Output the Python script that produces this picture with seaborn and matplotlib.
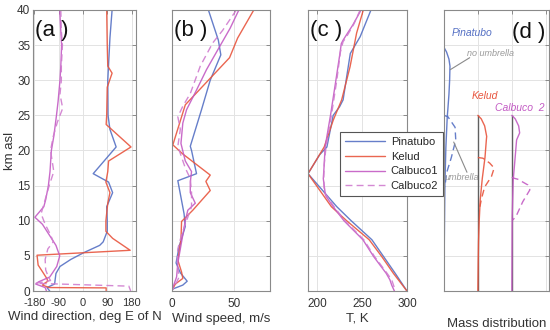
import matplotlib.pyplot as plt
import pandas as pd
import seaborn as sns

cases = ['Pinatubo', 'Kelud', 'Calbuco1', 'Calbuco2']
colors = ['#5570c4', '#e8553e', '#c35bc4', '#d07ccf']

# (a) wind direction, deg E of N
wd_km_pin = [40, 36, 30, 25, 23, 20.5, 16.7, 15.5, 14, 12, 10, 8.5, 7, 6.5, 5.5, 4.5, 3.5, 2.5, 1, 0.5, 0]
wd_pin = [108, 100, 92, 93, 100, 123, 38, 95, 110, 88, 90, 90, 75, 62, 5, -45, -85, -100, -105, -133, -123]
wd_km_kel = [40, 35, 32, 31, 29, 25, 23.7, 20.5, 18.5, 17, 15.5, 14, 12.5, 10, 8.5, 7.5, 5.8, 5.1, 3.7, 2.7, 1.8, 1.4, 1.1, 0.85, 0.5, 0.45, 0]
wd_kel = [88, 90, 92, 108, 90, 88, 86, 178, 95, 92, 85, 100, 92, 85, 85, 110, 175, -170, -166, -149, -134, -130, -142, -150, -125, 86, 86]
wd_km_c1 = [40, 37, 35, 32, 30, 27, 25, 22, 20, 17, 15, 13, 12, 10.5, 9.5, 8, 6.5, 5, 3.5, 2, 1.3, 1, 0.5, 0]
wd_c1 = [-86, -82, -79, -82, -85, -92, -98, -108, -117, -122, -128, -138, -145, -178, -150, -125, -100, -86, -97, -123, -165, -175, -140, -135]
wd_km_c2 = [40, 37, 35, 32, 30, 28, 26, 24, 22, 20, 17, 15, 13, 11, 9.5, 8, 7, 6, 4.5, 3, 2, 1.5, 1.1, 0.7, 0]
wd_c2 = [-82, -80, -76, -80, -80, -85, -75, -95, -110, -120, -108, -125, -140, -155, -140, -120, -110, -130, -140, -138, -128, -120, -175, 170, 177]

# (b) wind speed, m/s
ws_km_pin = [40, 35.7, 33.6, 30, 25.8, 20.6, 20, 16.7, 15.7, 11, 9.2, 6.3, 4, 2.6, 1.4, 0.85, 0.3, 0]
ws_pin = [29.5, 37.5, 39.5, 31, 24, 15, 16, 20, 5, 10, 11, 6, 3.6, 7, 12.5, 9, 1, 0]
ws_km_kel = [40, 36, 33.2, 26.5, 20.8, 19.5, 16.5, 15.6, 14.3, 11.5, 9.9, 7.3, 4.4, 2.7, 1.8, 1.0, 0]
ws_kel = [66, 53, 46.5, 11, 1, 9, 31, 27.5, 31, 17, 8, 7.5, 5, 8, 9, 3, 0]
ws_km_c1 = [40, 37.4, 34.3, 31.5, 28.6, 25.8, 23.9, 21, 18.5, 17, 15.5, 14, 12.5, 11.5, 10, 8, 6, 4, 2, 0.5, 0]
ws_c1 = [54, 47, 37, 28, 20, 12, 9, 7.5, 11, 16, 15, 15, 19, 13, 11, 9, 7, 5, 4, 1, 0]
ws_km_c2 = [40, 37.1, 35.3, 32, 28.1, 26.3, 24.8, 23, 20.6, 17.5, 16, 14, 12, 10, 8, 6, 4, 2, 0.5, 0]
ws_c2 = [52, 41, 33, 23, 15, 9, 5, 7, 5, 11, 15, 16, 16, 12, 8, 5, 4.5, 6, 2, 0]

# (c) temperature, K
t_km_pin = [40, 36.2, 33.8, 27.2, 26.2, 25, 20.5, 19.4, 16.7, 12, 10, 7.3, 4.9, 2.5, 0]
t_pin = [260, 248, 237, 229, 225, 218, 211, 203, 190, 222, 238, 261, 274, 287, 300]
t_km_kel = [40, 36.7, 31.9, 27.2, 24.3, 20.5, 16.7, 12, 10, 7.3, 4.9, 2.5, 0]
t_kel = [251.5, 244, 236.7, 227.4, 218, 208, 190, 216, 233, 258, 272, 285, 300]
t_km_c1 = [40, 37.9, 35.7, 35.2, 33.8, 30, 25, 20.5, 18, 16, 14, 13.5, 12, 10, 7.3, 4.9, 2.5, 1.6, 0.85, 0]
t_c1 = [249, 240, 229, 227, 225.5, 221, 215, 209, 208, 207, 209, 210, 218, 230, 251, 263, 277, 281, 283, 286]
t_km_c2 = [40, 38, 36, 35.5, 34, 30, 25, 20.5, 18, 16, 14, 13.5, 12, 10, 7.3, 4.9, 2.5, 1.6, 0.85, 0]
t_c2 = [248, 241, 232, 229, 226, 222, 216, 210, 208, 207.5, 208, 211, 219, 231, 252, 264, 278, 283, 285, 287]

# (d) mass distribution, no umbrella (solid) and umbrella (dashed)
md_base = [0, 1, 2]
md_km_pin = [34.7, 34, 33, 32, 30, 28, 26, 24.8, 20.5, 15, 10, 5, 0]
md_pin = [0, 0.08, 0.15, 0.18, 0.17, 0.15, 0.12, 0.1, 0.06, 0.03, 0.02, 0.01, 0]
md_km_pin_u = [25, 24.8, 23.3, 21.5, 19, 16.8, 14.8]
md_pin_u = [0, 0.12, 0.33, 0.35, 0.22, 0.08, 0.03]
md_km_kel = [25, 24.5, 23.5, 22, 21.5, 19, 16, 13, 10, 7, 4, 0]
md_kel = [0, 0.1, 0.2, 0.26, 0.25, 0.21, 0.13, 0.07, 0.04, 0.02, 0.01, 0]
md_km_kel_u = [19, 18.9, 18.2, 17.5, 16.3, 14.8, 13.2, 12]
md_kel_u = [0, 0.15, 0.35, 0.48, 0.4, 0.2, 0.11, 0.06]
md_km_cal = [25, 24.5, 23.5, 22.5, 21.5, 18.6, 15.8, 10.6, 0]
md_cal = [0, 0.1, 0.2, 0.23, 0.14, 0.09, 0.04, 0.01, 0]
md_km_cal_u = [16.2, 16.1, 15.9, 15.1, 14.4, 12.7, 10.8, 10.1]
md_cal_u = [0, 0.03, 0.18, 0.47, 0.53, 0.32, 0.14, 0.03]


def long_df(pairs, names):
    frames = []
    for name, (km, val) in zip(names, pairs):
        frames.append(pd.DataFrame({'km': km, 'val': val, 'case': name}))
    return pd.concat(frames, ignore_index=True)


df_wd = long_df([(wd_km_pin, wd_pin), (wd_km_kel, wd_kel), (wd_km_c1, wd_c1), (wd_km_c2, wd_c2)], cases)
df_ws = long_df([(ws_km_pin, ws_pin), (ws_km_kel, ws_kel), (ws_km_c1, ws_c1), (ws_km_c2, ws_c2)], cases)
df_t = long_df([(t_km_pin, t_pin), (t_km_kel, t_kel), (t_km_c1, t_c1), (t_km_c2, t_c2)], cases)

md_rows = []
for name, base, solid, dashed in zip(
        ['Pinatubo', 'Kelud', 'Calbuco1'], md_base,
        [(md_km_pin, md_pin), (md_km_kel, md_kel), (md_km_cal, md_cal)],
        [(md_km_pin_u, md_pin_u), (md_km_kel_u, md_kel_u), (md_km_cal_u, md_cal_u)]):
    md_rows.append(pd.DataFrame({'km': solid[0], 'val': [base + v for v in solid[1]],
                                 'case': name, 'kind': 'no umbrella'}))
    md_rows.append(pd.DataFrame({'km': dashed[0], 'val': [base + v for v in dashed[1]],
                                 'case': name, 'kind': 'umbrella'}))
df_md = pd.concat(md_rows, ignore_index=True)

sns.set_theme(style='whitegrid')
plt.rcParams['font.family'] = ['Liberation Sans', 'DejaVu Sans']
plt.rcParams.update({
    'axes.unicode_minus': False,
    'axes.edgecolor': '#8a8a8a', 'axes.linewidth': 0.8,
    'grid.color': '#e3e3e3', 'grid.linewidth': 0.7,
    'xtick.color': '#8a8a8a', 'ytick.color': '#8a8a8a',
    'xtick.labelcolor': '#333333', 'ytick.labelcolor': '#333333',
    'axes.labelcolor': '#333333',
})

pal = dict(zip(cases, colors))
dash = {'Pinatubo': '', 'Kelud': '', 'Calbuco1': '', 'Calbuco2': (5, 3)}

fig = plt.figure(figsize=(5.5, 3.3), dpi=100)
ax_a = fig.add_axes([0.060, 0.118, 0.187, 0.852])
ax_b = fig.add_axes([0.312, 0.118, 0.179, 0.852])
ax_c = fig.add_axes([0.560, 0.118, 0.180, 0.852])
ax_d = fig.add_axes([0.807, 0.118, 0.191, 0.852])

for ax, df, leg in [(ax_a, df_wd, False), (ax_b, df_ws, False), (ax_c, df_t, True)]:
    sns.lineplot(data=df, x='val', y='km', hue='case', style='case', palette=pal,
                 dashes=dash, sort=False, estimator=None, lw=1.0, alpha=0.9,
                 ax=ax, legend=leg)

sns.lineplot(data=df_md, x='val', y='km', hue='case', style='kind',
             palette=pal, dashes={'no umbrella': '', 'umbrella': (5, 3)},
             sort=False, estimator=None, lw=1.0, alpha=0.9, ax=ax_d, legend=False)
tops = [max(md_km_kel), max(md_km_cal)]
ax_d.vlines(md_base[1:], 0, tops, color='#606060', lw=1.0, zorder=1)

ax_a.set_xlim(-185, 196)
ax_a.set_xticks([-180, -90, 0, 90, 180])
ax_a.set_xlabel('Wind direction, deg E of N', fontsize=9.5, labelpad=2)
ax_b.set_xlim(0, 79)
ax_b.set_xticks([0, 50])
ax_b.set_xlabel('Wind speed, m/s', fontsize=9.5, labelpad=2)
ax_c.set_xlim(190, 300)
ax_c.set_xticks([200, 250, 300])
ax_c.set_xlabel('T, K', fontsize=9.5, labelpad=2)
ax_d.set_xlim(0, 3.09)
ax_d.set_xticks([0, 1, 2, 3])
ax_d.set_xticklabels([])
ax_d.set_xlabel('Mass distribution', fontsize=9.5, labelpad=14.5)

for ax, letter in zip([ax_a, ax_b, ax_c], ['(a )', '(b )', '(c )']):
    ax.text(0.02, 0.925, letter, transform=ax.transAxes, fontsize=16,
            color='#111111', va='center', ha='left')
ax_d.text(0.97, 0.918, '(d )', transform=ax_d.transAxes, fontsize=16,
          color='#111111', va='center', ha='right')

for i, ax in enumerate([ax_a, ax_b, ax_c, ax_d]):
    ax.set_ylim(0, 40)
    ax.set_yticks(range(0, 41, 5))
    ax.tick_params(direction='in', length=3, width=0.7, top=True, right=True,
                   labelsize=8.5, pad=2)
    ax.tick_params(axis='x', pad=5)
    if i > 0:
        ax.set_yticklabels([])
        ax.set_ylabel('')
    for s in ax.spines.values():
        s.set_visible(True)
ax_a.tick_params(axis='x', labelsize=8)
ax_a.set_ylabel('km asl', fontsize=9.5, labelpad=1)

sns.move_legend(ax_c, 'upper left', bbox_to_anchor=(0.27, 0.585), title=None,
                frameon=True, fontsize=8, handlelength=3.6, borderpad=0.45,
                labelspacing=0.42, handletextpad=0.5, fancybox=False, framealpha=1)
frame = ax_c.get_legend().get_frame()
frame.set_edgecolor('#555555')
frame.set_linewidth(0.8)

# annotations in (d)
ax_d.text(0.24, 36.7, 'Pinatubo', color=colors[0], style='italic', fontsize=7.5, va='center')
ax_d.text(0.68, 33.8, 'no umbrella', color='#9a9a9a', style='italic', fontsize=6.5, va='center')
ax_d.plot([0.76, 0.19], [33.2, 31.5], color='#8a8a8a', lw=0.8)
ax_d.text(0.82, 27.8, 'Kelud', color=colors[1], style='italic', fontsize=7.5, va='center')
ax_d.text(1.5, 26.0, 'Calbuco  2', color=colors[2], style='italic', fontsize=7.5, va='center')
ax_d.text(0.02, 16.1, 'umbrella', color='#9a9a9a', style='italic', fontsize=6.5, va='center')
ax_d.plot([0.68, 0.29], [16.9, 21.2], color='#8a8a8a', lw=0.8)

fig.savefig('out.png', dpi=100)
